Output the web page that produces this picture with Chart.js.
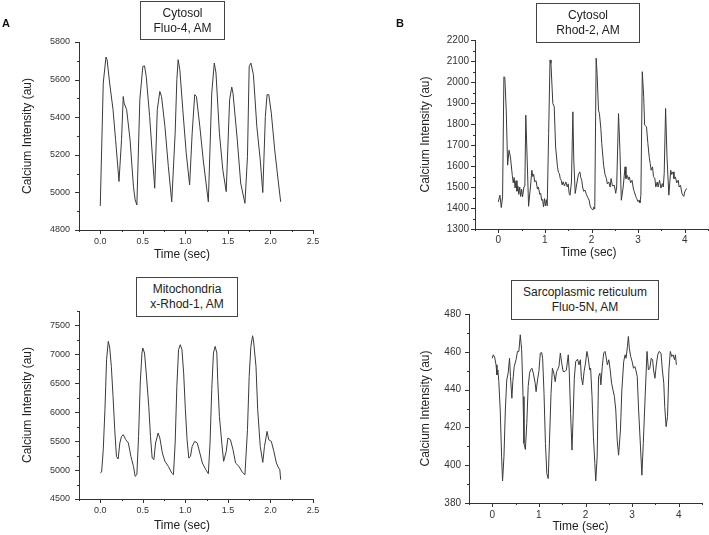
<!DOCTYPE html>
<html>
<head>
<meta charset="utf-8">
<script src="https://cdn.jsdelivr.net/npm/chart.js@4"></script>
<style>
  body { margin: 0; background: #fff; font-family: "Liberation Sans", Arial, sans-serif; }
  #page { position: relative; width: 709px; height: 535px; overflow: hidden; }
  canvas { position: absolute; }
  .tag { position: absolute; border: 1px solid #444; background: #fff; color: #222;
         font-size: 12px; line-height: 15px; text-align: center; box-sizing: border-box; padding-top: 4px; }
  .letter { position: absolute; font-weight: bold; font-size: 11px; color: #111; }
</style>
</head>
<body>
<div id="page">
  <canvas id="chartA" width="354" height="268" style="left:0;top:0"></canvas>
  <canvas id="chartB" width="349" height="268" style="left:360px;top:0"></canvas>
  <canvas id="chartC" width="354" height="265" style="left:0;top:270px"></canvas>
  <canvas id="chartD" width="349" height="265" style="left:360px;top:270px"></canvas>

  <div class="letter" style="left:2px;top:17px">A</div>
  <div class="letter" style="left:396px;top:17px">B</div>

  <div class="tag" style="left:140px;top:1px;width:85px;height:39px">Cytosol<br>Fluo-4, AM</div>
  <div class="tag" style="left:536px;top:3px;width:104px;height:40px">Cytosol<br>Rhod-2, AM</div>
  <div class="tag" style="left:136px;top:277px;width:102px;height:40px">Mitochondria<br>x-Rhod-1, AM</div>
  <div class="tag" style="left:511px;top:280px;width:148px;height:40px">Sarcoplasmic reticulum<br>Fluo-5N, AM</div>
</div>

<script>
// ---- data ----
// A: cytosol, Fluo-4 AM
const fluo4Time = [
  0, 0.035, 0.067, 0.08, 0.11, 0.15, 0.18, 0.22, 0.25, 0.27,
  0.28, 0.31, 0.35, 0.39, 0.41, 0.43, 0.465, 0.50, 0.52, 0.54,
  0.58, 0.61, 0.64, 0.67, 0.70, 0.72, 0.76, 0.80, 0.84, 0.88,
  0.90, 0.915, 0.935, 0.97, 1.01, 1.05, 1.08, 1.11, 1.13, 1.17,
  1.21, 1.27, 1.31, 1.34, 1.36, 1.40, 1.44, 1.48, 1.52, 1.545,
  1.56, 1.61, 1.65, 1.70, 1.73, 1.75, 1.77, 1.80, 1.84, 1.88,
  1.91, 1.94, 1.96, 1.98, 2.01, 2.05, 2.09, 2.12
];
const fluo4Values = [
  4928, 5582, 5720, 5706, 5582, 5440, 5280, 5058, 5280, 5510,
  5475, 5440, 5280, 5030, 4960, 4933, 5493, 5670, 5673, 5617,
  5404, 5210, 5022, 5440, 5537, 5510, 5350, 5137, 4950, 5315,
  5600, 5706, 5652, 5440, 5210, 5040, 5315, 5520, 5510, 5350,
  5173, 4950, 5528, 5688, 5635, 5315, 5120, 5004, 5493, 5560,
  5528, 5280, 5050, 4942, 5190, 5670, 5688, 5626, 5350, 5173,
  4999, 5404, 5520, 5520, 5422, 5226, 5066, 4950
];

// B: cytosol, Rhod-2 AM
const rhod2Time = [
  0, 0.035, 0.064, 0.092, 0.12, 0.14, 0.17, 0.20, 0.23, 0.26,
  0.28, 0.30, 0.32, 0.34, 0.36, 0.38, 0.40, 0.42, 0.44, 0.46,
  0.48, 0.50, 0.52, 0.55, 0.57, 0.59, 0.62, 0.65, 0.69, 0.72,
  0.74, 0.76, 0.78, 0.81, 0.84, 0.86, 0.89, 0.91, 0.93, 0.95,
  0.97, 0.99, 1.01, 1.03, 1.05, 1.08, 1.11, 1.13, 1.17, 1.20,
  1.23, 1.27, 1.29, 1.31, 1.33, 1.35, 1.37, 1.39, 1.42, 1.45,
  1.48, 1.50, 1.52, 1.54, 1.57, 1.60, 1.62, 1.65, 1.69, 1.72,
  1.75, 1.77, 1.79, 1.81, 1.83, 1.86, 1.89, 1.92, 1.95, 1.97,
  2.00, 2.03, 2.05, 2.07, 2.10, 2.12, 2.15, 2.17, 2.20, 2.22,
  2.26, 2.29, 2.32, 2.34, 2.37, 2.40, 2.42, 2.45, 2.49, 2.52,
  2.54, 2.58, 2.61, 2.64, 2.68, 2.72, 2.74, 2.77, 2.79, 2.81,
  2.84, 2.87, 2.90, 2.92, 2.95, 2.97, 3.00, 3.02, 3.04, 3.06,
  3.09, 3.12, 3.14, 3.18, 3.21, 3.24, 3.26, 3.28, 3.31, 3.33,
  3.36, 3.38, 3.41, 3.43, 3.46, 3.49, 3.52, 3.54, 3.56, 3.59,
  3.62, 3.66, 3.70, 3.72, 3.75, 3.77, 3.80, 3.83, 3.86, 3.88,
  3.91, 3.94, 3.96, 3.98, 4.00, 4.04
];
const rhod2Values = [
  1429, 1461, 1402, 1453, 2025, 2022, 1866, 1604, 1675, 1643,
  1600, 1556, 1520, 1545, 1495, 1530, 1480, 1505, 1465, 1500,
  1455, 1490, 1453, 1500, 1505, 1842, 1628, 1408, 1500, 1580,
  1550, 1560, 1525, 1530, 1490, 1500, 1465, 1470, 1437, 1440,
  1405, 1445, 1410, 1440, 1410, 1755, 2105, 2089, 1898, 1882,
  1690, 1596, 1570, 1564, 1540, 1532, 1510, 1525, 1505, 1524,
  1500, 1515, 1470, 1461, 1524, 1858, 1628, 1469, 1524, 1560,
  1572, 1545, 1532, 1500, 1480, 1485, 1465, 1450, 1437, 1410,
  1397, 1390, 1405, 1395, 2113, 2041, 1866, 1850, 1780, 1707,
  1604, 1560, 1540, 1515, 1524, 1500, 1540, 1505, 1508, 1470,
  1500, 1850, 1675, 1437, 1500, 1596, 1540, 1555, 1535, 1548,
  1520, 1532, 1490, 1477, 1455, 1445, 1430, 1437, 1425, 1461,
  2049, 1930, 1795, 1787, 1707, 1640, 1612, 1580, 1596, 1550,
  1540, 1500, 1524, 1500, 1532, 1495, 1516, 1500, 1564, 1874,
  1643, 1461, 1580, 1560, 1572, 1540, 1548, 1520, 1532, 1500,
  1508, 1470, 1461, 1455, 1477, 1493
];

// C: mitochondria, x-Rhod-1 AM
const xrhodTime = [
  0, 0.016, 0.035, 0.055, 0.074, 0.094, 0.11, 0.13, 0.15, 0.17,
  0.19, 0.21, 0.23, 0.25, 0.27, 0.30, 0.33, 0.36, 0.39, 0.41,
  0.43, 0.45, 0.47, 0.49, 0.50, 0.52, 0.54, 0.57, 0.59, 0.61,
  0.63, 0.65, 0.68, 0.70, 0.73, 0.76, 0.80, 0.84, 0.86, 0.88,
  0.90, 0.92, 0.94, 0.96, 0.98, 1.00, 1.02, 1.04, 1.06, 1.08,
  1.11, 1.14, 1.17, 1.20, 1.24, 1.27, 1.29, 1.31, 1.33, 1.35,
  1.37, 1.38, 1.40, 1.43, 1.45, 1.48, 1.50, 1.53, 1.56, 1.59,
  1.63, 1.67, 1.70, 1.73, 1.75, 1.77, 1.79, 1.80, 1.83, 1.85,
  1.88, 1.91, 1.93, 1.96, 1.98, 2.01, 2.04, 2.07, 2.09, 2.11,
  2.12
];
const xrhodValues = [
  4949, 4967, 5352, 6044, 6908, 7225, 7127, 6792, 6274, 5698,
  5237, 5191, 5468, 5583, 5612, 5525, 5468, 5237, 5064, 4892,
  4920, 5583, 6505, 7023, 7110, 7023, 6677, 6101, 5583, 5208,
  5180, 5468, 5640, 5554, 5295, 5151, 5064, 4949, 4920, 5468,
  6447, 7081, 7167, 7081, 6677, 6044, 5525, 5208, 5237, 5410,
  5497, 5468, 5295, 5122, 5007, 4938, 5468, 6389, 7023, 7138,
  7023, 6562, 5928, 5439, 5151, 5324, 5554, 5525, 5352, 5122,
  5064, 4961, 4920, 5698, 6620, 7138, 7322, 7253, 6792, 6044,
  5410, 5134, 5410, 5669, 5525, 5497, 5324, 5122, 5053, 5007,
  4834
];

// D: sarcoplasmic reticulum, Fluo-5N AM
const fluo5nTime = [
  0, 0.02, 0.05, 0.08, 0.10, 0.12, 0.14, 0.17, 0.20, 0.22,
  0.25, 0.28, 0.31, 0.34, 0.37, 0.39, 0.42, 0.44, 0.47, 0.51,
  0.54, 0.57, 0.60, 0.63, 0.66, 0.68, 0.71, 0.74, 0.77, 0.80,
  0.82, 0.85, 0.88, 0.92, 0.94, 0.97, 1.00, 1.03, 1.06, 1.08,
  1.11, 1.14, 1.17, 1.20, 1.23, 1.26, 1.29, 1.32, 1.35, 1.38,
  1.40, 1.43, 1.46, 1.49, 1.52, 1.56, 1.59, 1.63, 1.65, 1.68,
  1.71, 1.73, 1.76, 1.79, 1.83, 1.86, 1.89, 1.91, 1.94, 1.97,
  2.00, 2.03, 2.06, 2.09, 2.11, 2.14, 2.17, 2.20, 2.22, 2.25,
  2.28, 2.31, 2.33, 2.36, 2.39, 2.42, 2.44, 2.47, 2.50, 2.53,
  2.56, 2.59, 2.62, 2.65, 2.68, 2.71, 2.75, 2.78, 2.82, 2.85,
  2.87, 2.90, 2.92, 2.94, 2.97, 3.00, 3.03, 3.06, 3.08, 3.11,
  3.14, 3.18, 3.21, 3.24, 3.28, 3.32, 3.35, 3.38, 3.41, 3.44,
  3.46, 3.49, 3.52, 3.55, 3.58, 3.62, 3.65, 3.68, 3.70, 3.73,
  3.76, 3.79, 3.82, 3.85, 3.88, 3.91, 3.93, 3.95
];
const fluo5nValues = [
  456.6, 458.4, 457.2, 453.1, 447.8, 450.4, 444.2, 429.2, 404.4, 391.7,
  404.4, 429.2, 445.1, 448.7, 456.6, 446.9, 435.4, 444.2, 452.2, 455.8,
  460.2, 460.2, 469.0, 461.1, 436.3, 411.5, 408.3, 422.1, 441.6, 448.7,
  450.4, 451.3, 448.7, 443.4, 438.9, 445.1, 449.6, 459.3, 459.6, 456.6,
  438.0, 411.5, 395.6, 392.9, 415.0, 438.0, 451.3, 448.7, 444.2, 449.6,
  450.4, 452.2, 459.3, 454.0, 449.6, 449.6, 450.4, 458.4, 450.4, 427.4,
  408.0, 422.1, 446.0, 454.9, 456.1, 453.1, 455.8, 446.9, 442.5, 449.6,
  454.0, 460.2, 456.6, 450.4, 451.3, 436.3, 415.0, 400.9, 391.7, 404.4,
  446.9, 448.7, 442.5, 452.2, 459.3, 460.2, 457.5, 453.1, 455.8, 450.4,
  443.4, 439.8, 436.3, 429.2, 413.3, 405.3, 418.6, 439.8, 454.9, 458.4,
  456.6, 462.8, 468.1, 461.9, 457.5, 454.9, 451.3, 452.2, 450.4, 446.9,
  429.2, 409.7, 394.7, 411.5, 436.3, 460.2, 450.4, 451.3, 456.6, 455.8,
  450.4, 446.0, 453.1, 458.4, 460.2, 459.3, 450.4, 443.4, 431.0, 420.4,
  425.7, 450.4, 460.2, 457.5, 458.4, 455.8, 458.4, 453.1
];

const FONT = '"Liberation Sans", Arial, sans-serif';
const INK = '#333';

// outward tick marks, long for labelled ticks, short for the minor ones
const tickMarks = {
  id: 'tickMarks',
  afterDraw(chart) {
    const ctx = chart.ctx;
    ctx.save();
    ctx.strokeStyle = INK;
    ctx.lineWidth = 1;
    ['x', 'y'].forEach(id => {
      const s = chart.scales[id];
      s.ticks.forEach(t => {
        const len = t.label !== '' ? 4 : 2;
        const p = Math.round(s.getPixelForValue(t.value)) + 0.5;
        ctx.beginPath();
        if (id === 'x') { ctx.moveTo(p, s.top); ctx.lineTo(p, s.top + len); }
        else { ctx.moveTo(s.right, p); ctx.lineTo(s.right - len, p); }
        ctx.stroke();
      });
    });
    ctx.restore();
  }
};

// x axis title, placed off-centre like in the figure
const xTitle = {
  id: 'xTitle',
  afterDraw(chart, args, opts) {
    const {ctx, chartArea} = chart;
    ctx.save();
    ctx.font = '12px ' + FONT;
    ctx.fillStyle = '#222';
    ctx.textAlign = 'center';
    ctx.textBaseline = 'middle';
    ctx.fillText('Time (sec)', (chartArea.left + chartArea.right) / 2 + opts.dx, chartArea.bottom + opts.dy);
    ctx.restore();
  }
};

function near(a, b) { return Math.abs(a - b) < 1e-6; }

function makePanel(id, p) {
  const points = p.time.map((t, i) => ({ x: t, y: p.values[i] }));
  return new Chart(document.getElementById(id), {
    type: 'scatter',
    data: {
      datasets: [{
        data: points,
        showLine: true,
        borderColor: '#3a3a3a',
        borderWidth: 1,
        pointRadius: 0,
        tension: 0
      }]
    },
    options: {
      responsive: false,
      animation: false,
      events: [],
      layout: { padding: p.pad },
      plugins: {
        legend: { display: false },
        tooltip: { enabled: false },
        xTitle: { dx: p.titleDx, dy: p.titleDy }
      },
      scales: {
        x: {
          type: 'linear',
          min: p.xMin, max: p.xMax,
          grid: { display: false, drawTicks: false },
          border: { display: true, color: INK, width: 1 },
          ticks: {
            stepSize: p.xStep,
            autoSkip: false,
            maxRotation: 0,
            padding: p.xPad,
            color: INK,
            font: { family: FONT, size: p.fs },
            callback: v => p.xLabel(v)
          },
          afterFit: s => { s.height = p.xHeight; s.paddingLeft = 0; s.paddingRight = 0; }
        },
        y: {
          min: p.yMin, max: p.yMax,
          grid: { display: false, drawTicks: false },
          border: { display: true, color: INK, width: 1 },
          ticks: {
            stepSize: p.yStep,
            autoSkip: false,
            padding: p.yPad,
            color: INK,
            font: { family: FONT, size: p.fs },
            callback: v => p.yLabel(v)
          },
          title: {
            display: true,
            text: 'Calcium Intensity (au)',
            color: '#222',
            font: { family: FONT, size: 12 },
            padding: { top: p.yTitlePad, bottom: 0 }
          },
          afterFit: s => { s.width = p.yWidth; s.paddingTop = 0; s.paddingBottom = 0; }
        }
      }
    },
    plugins: [tickMarks, xTitle]
  });
}

const halfLabel = v => (v >= 0 && near(v * 2, Math.round(v * 2))) ? v.toFixed(1) : '';
const wholeLabel = v => (v >= 0 && v <= 4 && near(v, Math.round(v))) ? String(Math.round(v)) : '';

makePanel('chartA', {
  time: fluo4Time, values: fluo4Values,
  xMin: -0.25, xMax: 2.5, xStep: 0.25, xLabel: halfLabel,
  yMin: 4800, yMax: 5800, yStep: 100, yLabel: v => v % 200 === 0 ? String(v) : '',
  pad: { top: 42, right: 41, left: 0, bottom: 0 },
  yWidth: 79, xHeight: 38, yPad: 9, xPad: 6, fs: 9,
  yTitlePad: 20, titleDx: -14, titleDy: 25
});

makePanel('chartB', {
  time: rhod2Time, values: rhod2Values,
  xMin: -0.5, xMax: 4.5, xStep: 0.5, xLabel: wholeLabel,
  yMin: 1300, yMax: 2200, yStep: 50, yLabel: v => v % 100 === 0 ? String(v) : '',
  pad: { top: 40, right: 1, left: 0, bottom: 0 },
  yWidth: 115, xHeight: 39, yPad: 6, xPad: 5, fs: 10,
  yTitlePad: 58, titleDx: -3, titleDy: 24
});

makePanel('chartC', {
  time: xrhodTime, values: xrhodValues,
  xMin: -0.25, xMax: 2.5, xStep: 0.25, xLabel: halfLabel,
  yMin: 4500, yMax: 7750, yStep: 250, yLabel: v => (v % 500 === 0 && v <= 7500) ? String(v) : '',
  pad: { top: 41, right: 41, left: 0, bottom: 0 },
  yWidth: 79, xHeight: 36, yPad: 9, xPad: 6, fs: 9,
  yTitlePad: 20, titleDx: -14, titleDy: 27
});

makePanel('chartD', {
  time: fluo5nTime, values: fluo5nValues,
  xMin: -0.5, xMax: 4.5, xStep: 0.5, xLabel: wholeLabel,
  yMin: 380, yMax: 480, yStep: 10, yLabel: v => v % 20 === 0 ? String(v) : '',
  pad: { top: 44, right: 7, left: 0, bottom: 0 },
  yWidth: 109, xHeight: 32, yPad: 8, xPad: 6, fs: 10,
  yTitlePad: 58, titleDx: -5, titleDy: 24
});
</script>
</body>
</html>
